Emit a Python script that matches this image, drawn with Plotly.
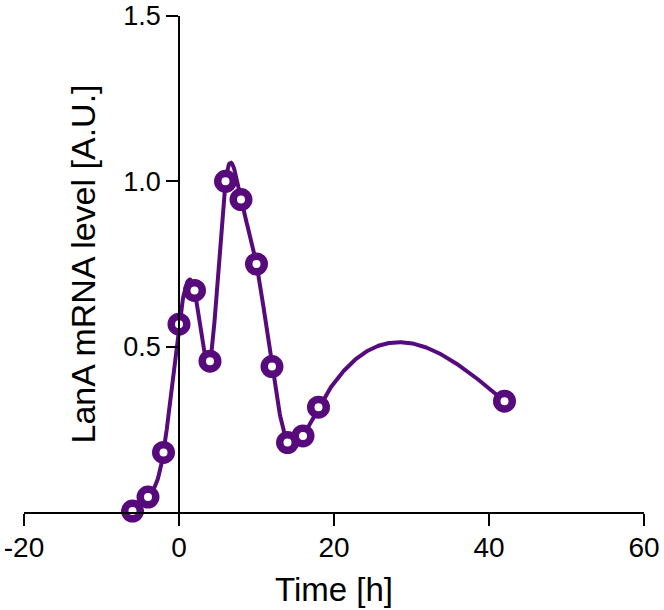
import numpy as np
import plotly.graph_objects as go

time_h = [-6, -4, -2, 0, 2, 4, 6, 8, 10, 12, 14, 16, 18, 42]
lana = [0.003, 0.045, 0.18, 0.568, 0.67, 0.456, 1.0, 0.945, 0.75, 0.44, 0.21, 0.23, 0.317, 0.335]
x_ticks = [-20, 0, 20, 40, 60]
x_ticktext = ["-20", "0", "20", "40", "60"]
y_ticks = [0.5, 1.0, 1.5]
y_ticktext = ["0.5", "1.0", "1.5"]

COLOR = "#570a7c"

def natural_spline(x, y, n=600):
    x = np.asarray(x, float); y = np.asarray(y, float)
    k = len(x); h = np.diff(x)
    A = np.zeros((k, k)); b = np.zeros(k)
    A[0, 0] = 1; A[-1, -1] = 1
    for i in range(1, k - 1):
        A[i, i - 1] = h[i - 1]; A[i, i] = 2 * (h[i - 1] + h[i]); A[i, i + 1] = h[i]
        b[i] = 6 * ((y[i + 1] - y[i]) / h[i] - (y[i] - y[i - 1]) / h[i - 1])
    M = np.linalg.solve(A, b)
    xs = np.linspace(x[0], x[-1], n)
    idx = np.clip(np.searchsorted(x, xs) - 1, 0, k - 2)
    x0 = x[idx]; x1 = x[idx + 1]; hh = x1 - x0
    t0 = x1 - xs; t1 = xs - x0
    ys = (M[idx] * t0**3 + M[idx + 1] * t1**3) / (6 * hh) \
        + (y[idx] / hh - M[idx] * hh / 6) * t0 + (y[idx + 1] / hh - M[idx + 1] * hh / 6) * t1
    return xs, ys

cx, cy = natural_spline(time_h, lana)

fig = go.Figure()
fig.add_trace(go.Scatter(x=cx, y=cy, mode="lines", line=dict(color=COLOR, width=4),
                         hoverinfo="skip", cliponaxis=False))
fig.add_trace(go.Scatter(x=time_h, y=lana, mode="markers", cliponaxis=False,
                         marker=dict(size=15.5, color="white", line=dict(color=COLOR, width=7.5))))

font = "Liberation Sans, Arial, Helvetica, sans-serif"
fig.update_layout(
    width=664, height=610, showlegend=False,
    margin=dict(l=24, r=20, t=16, b=98),
    plot_bgcolor="white", paper_bgcolor="white",
    font=dict(family=font, color="black"),
    xaxis=dict(range=[-20, 60], tickvals=x_ticks, ticktext=x_ticktext, showgrid=False,
               zeroline=False, showline=True, linecolor="black", linewidth=1.8,
               ticks="outside", ticklen=12, tickwidth=1.8, tickcolor="black",
               tickfont=dict(size=28), ticklabelstandoff=-3,
               title=dict(text="Time [h]", font=dict(size=33), standoff=16),
               automargin=False),
    yaxis=dict(range=[0, 1.5], tickvals=y_ticks, ticktext=y_ticktext, showgrid=False,
               zeroline=False, showline=True, linecolor="black", linewidth=1.8,
               ticks="outside", ticklen=12, tickwidth=1.8, tickcolor="black",
               tickfont=dict(size=27), anchor="free", position=0.25,
               title=dict(text="LanA mRNA level [A.U.]", font=dict(size=34), standoff=16),
               automargin=False),
)
fig.write_html("out.html", config={"displayModeBar": False},
               post_script="document.body.style.margin='0';document.body.style.padding='0';")
